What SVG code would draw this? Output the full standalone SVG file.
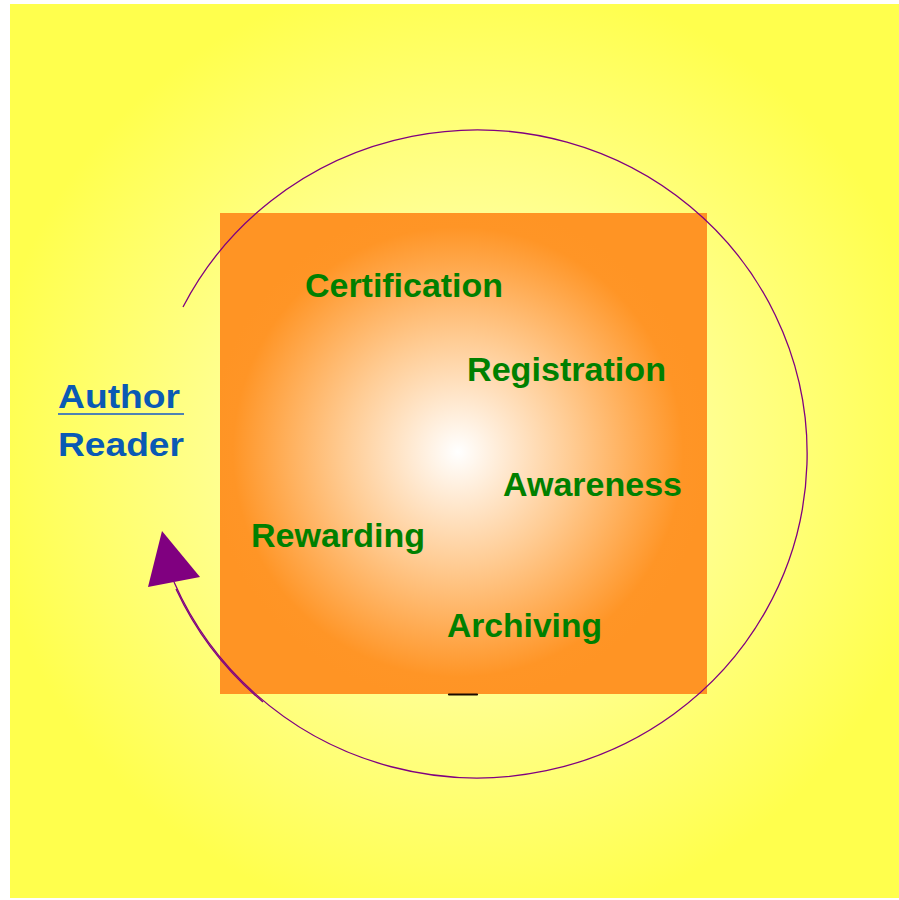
<svg xmlns="http://www.w3.org/2000/svg" width="899" height="900" viewBox="0 0 899 900">
  <defs>
    <radialGradient id="bgGlow" gradientUnits="userSpaceOnUse" cx="465" cy="450" r="480">
      <stop offset="0" stop-color="#ffffb2"/>
      <stop offset="0.45" stop-color="#ffff98"/>
      <stop offset="1" stop-color="#ffff4d"/>
    </radialGradient>
    <radialGradient id="coreGlow" gradientUnits="userSpaceOnUse" cx="458" cy="452" r="250">
      <stop offset="0" stop-color="#ffffff"/>
      <stop offset="0.45" stop-color="#ffcc94"/>
      <stop offset="0.9" stop-color="#ff9526"/>
      <stop offset="1" stop-color="#ff9424"/>
    </radialGradient>
  </defs>
  <style>
    .step { font-family: "Liberation Sans", Arial, sans-serif; font-weight: bold; font-size: 34px; fill: #008000; }
    .role { font-family: "Liberation Sans", Arial, sans-serif; font-weight: bold; font-size: 33px; fill: #0a5ab4; }
    .cycle { fill: none; stroke: #800080; stroke-width: 1.3; }
  </style>

  <rect width="899" height="900" fill="#ffffff"/>
  <rect id="backdrop" x="10" y="4" width="889" height="894" fill="url(#bgGlow)"/>

  <g id="core">
    <rect x="220" y="213" width="487" height="481" fill="url(#coreGlow)"/>
    <path d="M449 694.5 H477" stroke="#1a0a00" stroke-width="2.2" stroke-linecap="round"/>
  </g>

  <g id="connectors">
    <path class="cycle" d="M183 307 A330 324 0 1 1 174 582"/>
    <path class="cycle" d="M263 702 A330 324 0 0 1 176 589"/>
    <polygon points="162,531 148,587 200,577" fill="#800080"/>
  </g>

  <g id="roles">
    <text class="role" x="58" y="408" textLength="122" lengthAdjust="spacingAndGlyphs">Author</text>
    <line x1="58" y1="414" x2="184" y2="414" stroke="#4f82b4" stroke-width="2"/>
    <text class="role" x="58" y="456" textLength="126" lengthAdjust="spacingAndGlyphs">Reader</text>
  </g>

  <g id="certification"><text class="step" x="305" y="297" textLength="198" lengthAdjust="spacingAndGlyphs">Certification</text></g>
  <g id="registration"><text class="step" x="467" y="381" textLength="199" lengthAdjust="spacingAndGlyphs">Registration</text></g>
  <g id="awareness"><text class="step" x="503" y="496" textLength="179" lengthAdjust="spacingAndGlyphs">Awareness</text></g>
  <g id="rewarding"><text class="step" x="251" y="547" textLength="174" lengthAdjust="spacingAndGlyphs">Rewarding</text></g>
  <g id="archiving"><text class="step" x="447" y="637" textLength="155" lengthAdjust="spacingAndGlyphs">Archiving</text></g>
</svg>
